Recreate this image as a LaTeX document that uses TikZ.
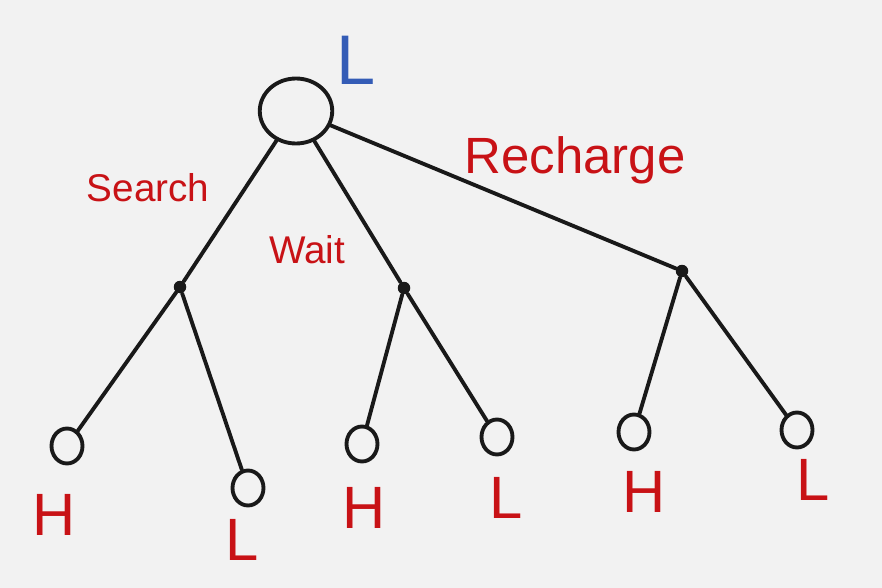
\documentclass[tikz,border=0pt]{standalone}
\usepackage{fontspec}
\setmainfont{Liberation Sans}
\usetikzlibrary{shapes.geometric}
\definecolor{penred}{RGB}{200,18,22}
\definecolor{penblue}{RGB}{52,92,182}
\definecolor{paper}{RGB}{242,242,242}
\tikzstyle{rootstate} = [ellipse, minimum width=1.45cm, minimum height=1.3cm, draw=black!90, line width=2.2pt, inner sep=0pt]
\tikzstyle{leafstate} = [ellipse, minimum width=0.62cm, minimum height=0.7cm, draw=black!90, line width=2.2pt, inner sep=0pt]
\tikzstyle{chance} = [circle, fill=black!90, minimum size=0.25cm, inner sep=0pt]
\tikzstyle{edge} = [line width=2.2pt, black!90, line cap=round]
\tikzstyle{actlabel} = [text=penred, font=\fontsize{22}{26}\selectfont]
\tikzstyle{outcome} = [text=penred, font=\fontsize{34}{38}\selectfont]

\begin{document}
\begin{tikzpicture}[x=0.02cm, y=-0.02cm]
        \fill[paper] (0,0) rectangle (882,588);
        \useasboundingbox (0,0) rectangle (882,588);

        \node (root) [rootstate] at (296,111) {};
        \node (rootlab) [text=penblue, font=\fontsize{40}{44}\selectfont] at (356,60) {L};

        \node (c1) [chance] at (180,287) {};
        \node (c2) [chance] at (404,288) {};
        \node (c3) [chance] at (682,271) {};

        \node (leaf1) [leafstate] at (67,446) {};
        \node (leaf2) [leafstate] at (248,488) {};
        \node (leaf3) [leafstate] at (362,444) {};
        \node (leaf4) [leafstate] at (497,437) {};
        \node (leaf5) [leafstate] at (634,432) {};
        \node (leaf6) [leafstate] at (797,430) {};

        \node (search) [actlabel] at (148,188) {Search};
        \node (wait) [actlabel] at (307,250) {Wait};
        \node (recharge) [actlabel, font=\fontsize{29}{32}\selectfont] at (575,160) {Recharge};

        \node (out1) [outcome] at (54,515) {H};
        \node (out2) [outcome] at (242,540) {L};
        \node (out3) [outcome] at (364,508) {H};
        \node (out4) [outcome] at (506,498) {L};
        \node (out5) [outcome] at (644,492) {H};
        \node (out6) [outcome] at (813,480) {L};

        \draw [edge] (root) -- (c1);
        \draw [edge] (root) -- (c2);
        \draw [edge] (root) -- (c3);
        \draw [edge] (c1) -- (leaf1);
        \draw [edge] (c1) -- (leaf2);
        \draw [edge] (c2) -- (leaf3);
        \draw [edge] (c2) -- (leaf4);
        \draw [edge] (c3) -- (leaf5);
        \draw [edge] (c3) -- (leaf6);
    \end{tikzpicture}
\end{document}
